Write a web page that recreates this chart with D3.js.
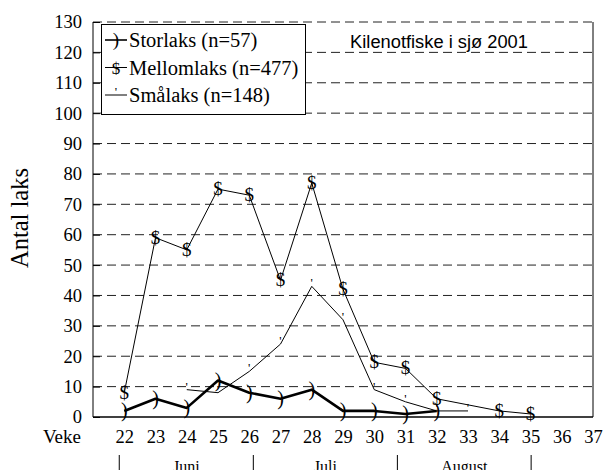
<!DOCTYPE html>
<html>
<head>
<meta charset="utf-8">
<script src="https://cdn.jsdelivr.net/npm/d3@7"></script>
<style>
  body { margin: 0; background: #fff; }
  text { font-family: "Liberation Serif", "Times New Roman", serif; }
</style>
</head>
<body>
<svg id="chart" width="604" height="470"></svg>
<script>
// weeks and catch per week (null = no catch reported)
var weeks = [22, 23, 24, 25, 26, 27, 28, 29, 30, 31, 32, 33, 34, 35]
var storlaks = [2, 6, 3, 12, 8, 6, 9, 2, 2, 1, 2, null, null, null]
var mellomlaks = [8, 59, 55, 75, 73, 45, 77, 42, 18, 16, 6, null, 2, 1]
var smaalaks = [null, null, 9, 8, 15, 24, 43, 32, 9, 5, 2, 2, null, null]
var weekTicks = [22, 23, 24, 25, 26, 27, 28, 29, 30, 31, 32, 33, 34, 35, 36, 37]
var yTicks = [0, 10, 20, 30, 40, 50, 60, 70, 80, 90, 100, 110, 120, 130]
var monthNames = ["Juni", "Juli", "August"]
var monthBounds = [21.84, 26.13, 30.74, 35.02]

var series = [
  { name: "Mellomlaks (n=477)", values: mellomlaks, marker: "$", width: 1 },
  { name: "Smålaks (n=148)", values: smaalaks, marker: "'", width: 1 },
  { name: "Storlaks (n=57)", values: storlaks, marker: ")", width: 2.6 }
]

var svg = d3.select("#chart")
var pLeft = 93, pRight = 593, pTop = 22, pBottom = 417

var x = d3.scaleLinear().domain([21, 37]).range([pLeft, pRight])
var y = d3.scaleLinear().domain([0, 130]).range([pBottom, pTop])

// dashed gridlines
svg.append("g").selectAll("line")
  .data(yTicks.filter(function(d) { return d > 0 }))
  .enter().append("line")
  .attr("x1", pLeft).attr("x2", pRight)
  .attr("y1", function(d) { return y(d) }).attr("y2", function(d) { return y(d) })
  .attr("stroke", "#222").attr("stroke-width", 1)
  .attr("stroke-dasharray", "9,5")

// frame: left, bottom and right solid
svg.append("line").attr("x1", pLeft).attr("x2", pLeft).attr("y1", pTop).attr("y2", pBottom).attr("stroke", "#000")
svg.append("line").attr("x1", pRight).attr("x2", pRight).attr("y1", pTop).attr("y2", pBottom).attr("stroke", "#000")
svg.append("line").attr("x1", pLeft).attr("x2", pRight).attr("y1", pBottom).attr("y2", pBottom).attr("stroke", "#000").attr("stroke-width", 1.5)

// y axis
var yAxis = svg.append("g")
  .attr("transform", "translate(" + pLeft + ",0)")
  .call(d3.axisRight(y).tickValues(yTicks).tickSize(7).tickFormat(""))
yAxis.select(".domain").remove()
yAxis.selectAll("line").attr("stroke", "#000")

svg.append("g").selectAll("text")
  .data(yTicks)
  .enter().append("text")
  .attr("x", pLeft - 11)
  .attr("y", function(d) { return y(d) })
  .attr("dy", "0.35em")
  .attr("text-anchor", "end")
  .attr("font-size", 18.5)
  .text(function(d) { return d })

svg.append("text")
  .attr("transform", "translate(28,218) rotate(-90)")
  .attr("text-anchor", "middle")
  .attr("font-size", 24.5)
  .text("Antal laks")

// x axis labels
var xAxis = svg.append("g")
  .attr("transform", "translate(0," + pBottom + ")")
  .call(d3.axisBottom(x).tickValues(weekTicks).tickSize(0).tickPadding(13))
xAxis.select(".domain").remove()
xAxis.selectAll("text")
  .style("font-family", "'Liberation Serif', serif")
  .attr("font-size", 18.5)
  .attr("fill", "#000")

svg.append("text")
  .attr("x", 62).attr("y", 443)
  .attr("text-anchor", "middle")
  .attr("font-size", 19)
  .text("Veke")

// months
svg.append("g").selectAll("line")
  .data(monthBounds)
  .enter().append("line")
  .attr("x1", function(d) { return x(d) }).attr("x2", function(d) { return x(d) })
  .attr("y1", 455).attr("y2", 470)
  .attr("stroke", "#000")

svg.append("g").selectAll("text")
  .data(monthNames)
  .enter().append("text")
  .attr("x", function(d, i) { return x((monthBounds[i] + monthBounds[i + 1]) / 2) })
  .attr("y", 472)
  .attr("text-anchor", "middle")
  .attr("font-size", 16)
  .text(function(d) { return d })

// lines
var line = d3.line()
  .x(function(d) { return x(d.w) })
  .y(function(d) { return y(d.v) })

series.forEach(function(s) {
  var drawn = weeks.map(function(w, i) { return { w: w, v: s.values[i] } })
    .filter(function(d) { return d.v != null })
  svg.append("path")
    .datum(drawn)
    .attr("d", line)
    .attr("fill", "none")
    .attr("stroke", "#000")
    .attr("stroke-width", s.width)
    .attr("stroke-linejoin", "round")

  var m = svg.append("g").selectAll("text")
    .data(drawn)
    .enter().append("text")
    .attr("x", function(d) { return x(d.w) })
    .attr("text-anchor", "middle")
    .text(s.marker)
  if (s.marker == "$") {
    m.attr("y", function(d) { return y(d.v) + 6 }).attr("font-size", 19)
  } else if (s.marker == ")") {
    m.attr("y", function(d) { return y(d.v) + 6 }).attr("font-size", 20)
  } else {
    m.attr("y", function(d) { return y(d.v) + 1 }).attr("font-size", 13)
  }
})

// legend
var lg = svg.append("g")
lg.append("rect")
  .attr("x", 101.5).attr("y", 24.5).attr("width", 204).attr("height", 90)
  .attr("fill", "#fff").attr("stroke", "#000")

var legendItems = [series[2], series[0], series[1]]
legendItems.forEach(function(s, i) {
  var base = 47 + i * 27.5
  var ly = base - 7
  lg.append("line")
    .attr("x1", 105).attr("x2", 127).attr("y1", ly).attr("y2", ly)
    .attr("stroke", "#000").attr("stroke-width", s.width > 1 ? 1.6 : 1)
  var t = lg.append("text").attr("x", 116).attr("text-anchor", "middle").text(s.marker)
  if (s.marker == "'") t.attr("y", ly + 1).attr("font-size", 13)
  else t.attr("y", ly + 6).attr("font-size", s.marker == "$" ? 17 : 19)
  lg.append("text")
    .attr("x", 129).attr("y", base)
    .attr("font-size", 20.5)
    .text(s.name)
})

svg.append("text")
  .attr("x", 439).attr("y", 48)
  .attr("text-anchor", "middle")
  .style("font-family", "'Liberation Sans', Arial, sans-serif")
  .attr("font-size", 18.3)
  .text("Kilenotfiske i sjø 2001")
</script>
</body>
</html>
